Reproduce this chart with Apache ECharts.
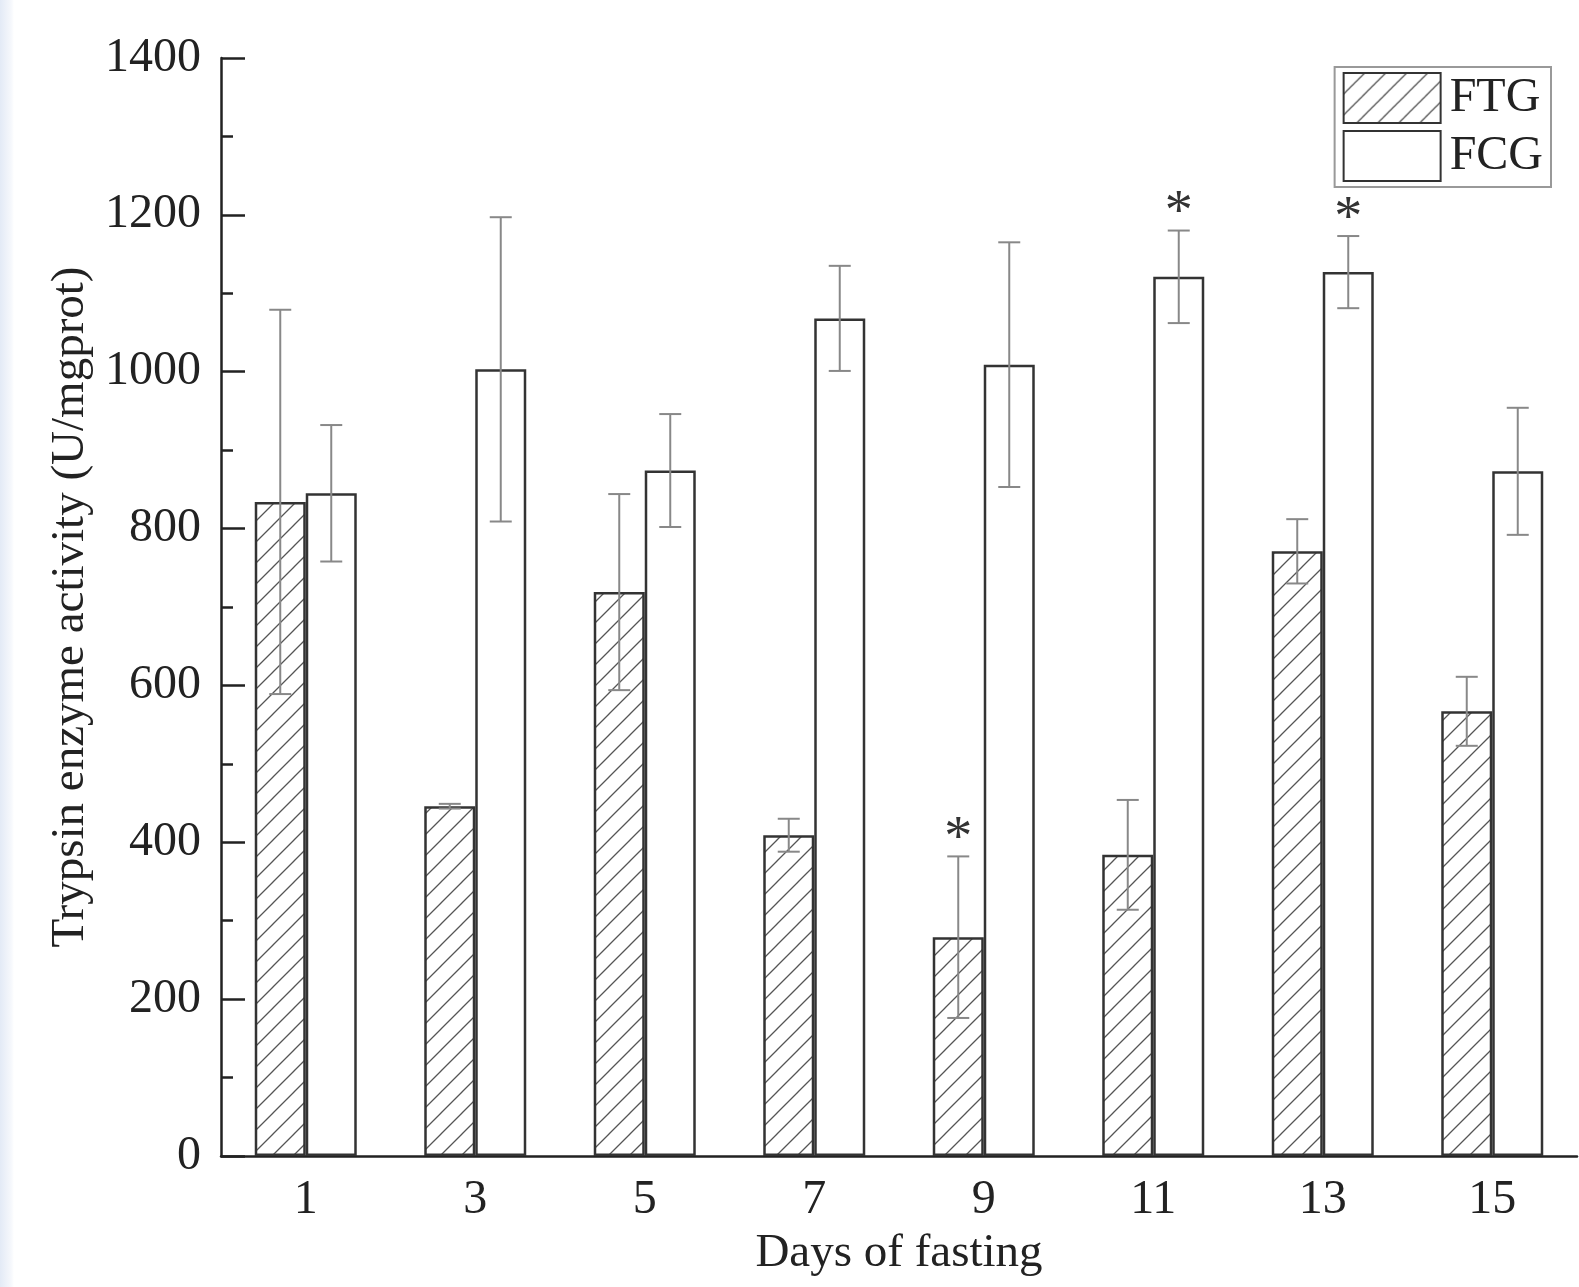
<!DOCTYPE html>
<html>
<head>
	<meta charset="utf-8">
	<title>trypsin</title>
	<script src="https://cdn.jsdelivr.net/npm/echarts@6/dist/echarts.min.js"></script>
	<style type="text/css">
		*{margin:0;padding:0;}
		body{background:#fff;}
		#main{width:1579px;height:1287px;}
		.edge{position:absolute;left:0;top:0;width:14px;height:1287px;
			background:linear-gradient(to right,#e3eaf6,#f6f8fc 80%,#fff);}
	</style>
</head>
<body>
	<div class="edge"></div>
	<div id="main"></div>
	<script type="text/javascript">
	// 数据
	var days = ['1', '3', '5', '7', '9', '11', '13', '15'];
	var ftg = [834, 446, 719, 409, 279, 384, 771, 567];
	var ftgErr = [245, 3, 125, 21, 103, 70, 41, 44];
	var fcg = [845, 1003, 874, 1068, 1009, 1121, 1127, 873];
	var fcgErr = [87, 194, 72, 67, 156, 59, 46, 81];
	// 显著性标记
	var ftgStar = [0, 0, 0, 0, 1, 0, 0, 0];
	var fcgStar = [0, 0, 0, 0, 0, 1, 1, 0];
	var yTicks = [0, 200, 400, 600, 800, 1000, 1200, 1400];

	var font = "'Liberation Serif', 'Times New Roman', serif";
	var barW = 51;

	// 斜线填充
	function hatch() {
		var c = document.createElement('canvas');
		c.width = 21; c.height = 21;
		var g = c.getContext('2d');
		g.fillStyle = '#fff';
		g.fillRect(0, 0, 21, 21);
		g.strokeStyle = '#555';
		g.lineWidth = 1.3;
		g.beginPath();
		g.moveTo(0, 21); g.lineTo(21, 0);
		g.moveTo(-10.5, 10.5); g.lineTo(10.5, -10.5);
		g.moveTo(10.5, 31.5); g.lineTo(31.5, 10.5);
		g.stroke();
		return c;
	}

	function errData(vals, errs, stars) {
		var out = [];
		for (var i = 0; i < vals.length; i++) {
			out.push([i, vals[i], errs[i], stars[i]]);
		}
		return out;
	}

	function errRender(shift) {
		return function (params, api) {
			var i = api.value(0), v = api.value(1), e = api.value(2);
			var top = api.coord([i, v + e]);
			var bot = api.coord([i, v - e]);
			var x = top[0] + shift;
			var cap = 11;
			var kids = [
				{type: 'line', shape: {x1: x, y1: top[1], x2: x, y2: bot[1]}, style: {stroke: '#888', lineWidth: 2}},
				{type: 'line', shape: {x1: x - cap, y1: top[1], x2: x + cap, y2: top[1]}, style: {stroke: '#888', lineWidth: 2}},
				{type: 'line', shape: {x1: x - cap, y1: bot[1], x2: x + cap, y2: bot[1]}, style: {stroke: '#888', lineWidth: 2}}
			];
			if (api.value(3)) {
				kids.push({type: 'text', x: x, y: top[1] + 12,
					style: {text: '*', font: '56px ' + font, fill: '#333', align: 'center', verticalAlign: 'bottom'}});
			}
			return {type: 'group', children: kids};
		};
	}

	var myChart = echarts.init(document.getElementById('main'));
	var option = {
		animation: false,
		grid: {left: 221, top: 58, width: 1356, bottom: 131},
		legend: {
			right: 28, top: 67,
			orient: 'vertical',
			icon: 'rect',
			itemWidth: 97, itemHeight: 50,
			itemGap: 6,
			padding: [5, 8, 5, 8],
			borderColor: '#999', borderWidth: 2,
			textStyle: {fontFamily: font, fontSize: 48, color: '#222', padding: [0, 0, 0, 4]},
			data: ['FTG', 'FCG']
		},
		xAxis: {
			type: 'category',
			data: days,
			name: 'Days of fasting',
			nameLocation: 'middle',
			nameGap: 74,
			nameTextStyle: {fontFamily: font, fontSize: 47, color: '#222'},
			axisLine: {lineStyle: {color: '#222', width: 2.5}},
			axisTick: {inside: true, length: 9, lineStyle: {color: '#222', width: 2.5}},
			axisLabel: {fontFamily: font, fontSize: 48, color: '#222', margin: 20}
		},
		yAxis: {
			type: 'value',
			min: yTicks[0], max: yTicks[yTicks.length - 1], interval: 200,
			name: 'Trypsin enzyme activity (U/mgprot)',
			nameLocation: 'middle',
			nameGap: 122,
			nameTextStyle: {fontFamily: font, fontSize: 47, color: '#222'},
			axisLine: {show: true, lineStyle: {color: '#222', width: 2.5}},
			axisTick: {show: true, inside: true, length: 24, lineStyle: {color: '#222', width: 2.5}},
			minorTick: {show: true, splitNumber: 2, length: 12, lineStyle: {color: '#222', width: 2.5}},
			splitLine: {show: false},
			axisLabel: {fontFamily: font, fontSize: 48, color: '#222', margin: 20,
				formatter: function (v) { return String(v); }}
		},
		series: [
			{
				name: 'FTG', type: 'bar', data: ftg,
				barWidth: barW, barGap: '0%',
				itemStyle: {color: {image: hatch(), repeat: 'repeat'}, borderColor: '#333', borderWidth: 2.5}
			},
			{
				name: 'FCG', type: 'bar', data: fcg,
				barWidth: barW, barGap: '0%',
				itemStyle: {color: '#fff', borderColor: '#333', borderWidth: 2.5}
			},
			{
				type: 'custom', data: errData(ftg, ftgErr, ftgStar),
				renderItem: errRender(-barW / 2), z: 5, silent: true
			},
			{
				type: 'custom', data: errData(fcg, fcgErr, fcgStar),
				renderItem: errRender(barW / 2), z: 5, silent: true
			}
		]
	};
	myChart.setOption(option);
	</script>
</body>
</html>
